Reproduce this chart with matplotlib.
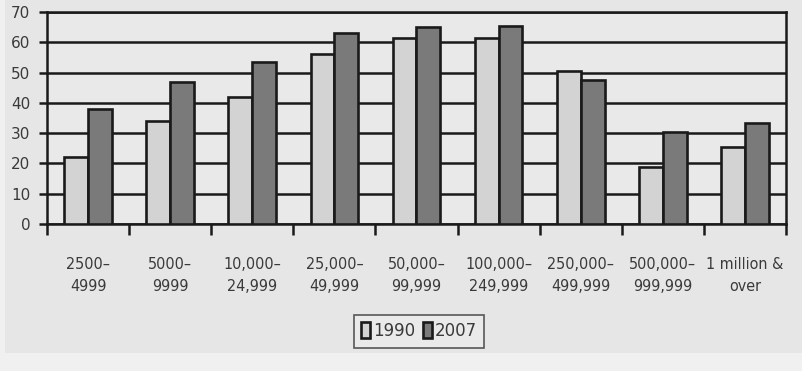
import numpy as np
import matplotlib.pyplot as plt
from matplotlib.patches import Rectangle

# categorias (faixas de população) e valores das duas séries
categorias = ["2500–\n4999", "5000–\n9999", "10,000–\n24,999", "25,000–\n49,999",
              "50,000–\n99,999", "100,000–\n249,999", "250,000–\n499,999",
              "500,000–\n999,999", "1 million &\nover"]
v1990 = [22, 34, 42, 56, 61.5, 61.3, 50.5, 18.8, 25.5]
v2007 = [38, 47, 53.5, 63, 65, 65.3, 47.7, 30.5, 33.5]

fig = plt.figure(figsize=(8.03, 3.71), dpi=100)
fig.patch.set_facecolor("#f0f0f0")
# painel cinza atrás do gráfico
fig.patches.append(Rectangle((5/803, 18/371), 798/803, 353/371, transform=fig.transFigure,
                             facecolor="#e6e6e6", edgecolor="none", zorder=-10))

ax = fig.add_axes([47/803, 147/371, 739/803, 212/371])
ax.set_facecolor("#e9e9e9")

x = np.arange(len(categorias))
w = 0.29
b1 = ax.bar(x - w/2, v1990, w, color="#d3d3d3", edgecolor="#1a1a1a", linewidth=1.9, zorder=3, label="1990")
b2 = ax.bar(x + w/2, v2007, w, color="#7a7a7a", edgecolor="#1a1a1a", linewidth=1.9, zorder=3, label="2007")

ax.set_xlim(-0.5, len(categorias) - 0.5)
ax.set_ylim(0, 70)
ax.set_yticks(range(0, 71, 10))
ax.yaxis.grid(True, color="#1a1a1a", linewidth=1.8, zorder=1)
ax.set_axisbelow(True)

# ticks nas divisões dos grupos, rótulos no centro
ax.set_xticks(np.arange(-0.5, len(categorias), 1))
ax.set_xticklabels([])
ax.set_xticks(x, minor=True)
ax.set_xticklabels(categorias, minor=True, fontsize=11.5, color="#3a3a3a",
                   linespacing=1.55, fontstretch="condensed")
ax.tick_params(axis="x", which="major", direction="out", length=8, width=1.8, color="#1a1a1a")
ax.tick_params(axis="x", which="minor", length=0, pad=24)
ax.tick_params(axis="y", direction="out", length=6, width=1.8, color="#1a1a1a",
               labelsize=11, labelcolor="#3a3a3a", pad=6)

for s in ax.spines.values():
    s.set_color("#1a1a1a")
    s.set_linewidth(1.8)

leg = fig.legend(handles=[b1, b2], loc="center", bbox_to_anchor=(419/803, (371-331)/371),
                 ncol=2, fontsize=12, frameon=True, fancybox=False, edgecolor="#333333",
                 handlelength=0.55, handleheight=1.1, handletextpad=0.15, columnspacing=0.5,
                 borderpad=0.45, labelcolor="#3a3a3a")
leg.get_frame().set_facecolor("#ececec")
leg.get_frame().set_linewidth(1.2)

plt.savefig("out.png", dpi=100, facecolor=fig.get_facecolor())
